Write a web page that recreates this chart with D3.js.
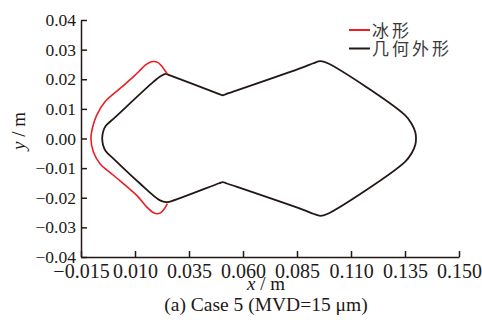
<!DOCTYPE html>
<html>
<head>
<meta charset="utf-8">
<script src="https://cdn.jsdelivr.net/npm/d3@7"></script>
<style>
  body { margin: 0; background: #fff; }
  svg { display: block; }
  .axis path, .axis line { stroke: #231815; stroke-width: 1.5; }
</style>
</head>
<body>
<div id="chart"></div>
<script>
// tick labels (the last x label reads 0.150 in the source figure)
var xTickValues = [-0.015, 0.010, 0.035, 0.060, 0.085, 0.110, 0.135, 0.160];
var xTickLabels = ["\u22120.015", "0.010", "0.035", "0.060", "0.085", "0.110", "0.135", "0.150"];
var yTickValues = [-0.04, -0.03, -0.02, -0.01, 0.00, 0.01, 0.02, 0.03, 0.04];

// geometry outline (closed), x / m
var geomX = [-0.0052, -0.0048, -0.0036, 0.0010, 0.0185, 0.0220, 0.0242, 0.0262, 0.0490, 0.0506, 0.0522,
  0.0880, 0.0925, 0.0958, 0.0990, 0.1350, 0.1382, 0.1398, 0.1401,
  0.1398, 0.1382, 0.1350, 0.0990, 0.0958, 0.0925, 0.0880,
  0.0522, 0.0506, 0.0490, 0.0262, 0.0245, 0.0216, 0.0123, 0.0000, -0.0036, -0.0048, -0.0052];
// y / m
var geomY = [0.0000, 0.0022, 0.0042, 0.0073, 0.0191, 0.0211, 0.0218, 0.0213, 0.0150, 0.0146, 0.0150,
  0.0241, 0.0254, 0.0261, 0.0255, 0.0079, 0.0048, 0.0020, 0.0000,
  -0.0020, -0.0048, -0.0079, -0.0255, -0.0261, -0.0254, -0.0241,
  -0.0151, -0.0147, -0.0151, -0.0213, -0.0215, -0.0209, -0.0152, -0.0068, -0.0042, -0.0022, 0.0000];

// ice shape
var iceX = [0.0250, 0.0236, 0.0222, 0.0205, 0.0185, 0.0165, 0.0146, 0.0120, 0.0092, 0.0031, -0.0039,
  -0.0077, -0.0096, -0.0104, -0.0093, -0.0062, 0.0000, 0.0108, 0.0154, 0.0180, 0.0200, 0.0220, 0.0236, 0.0250];
var iceY = [0.0218, 0.0232, 0.0246, 0.0257, 0.0260, 0.0256, 0.0247, 0.0228, 0.0208, 0.0169, 0.0124,
  0.0079, 0.0039, 0.0000, -0.0045, -0.0085, -0.0124, -0.0192, -0.0231, -0.0248, -0.0254, -0.0250, -0.0237, -0.0220];

var legendNames = ["冰形", "几何外形"];
var colors = ["#ed1c24", "#231815"];

var serif = "'Liberation Serif', 'Times New Roman', serif";
var width = 482, height = 325;
var svg = d3.select("#chart").append("svg").attr("width", width).attr("height", height);

var x = d3.scaleLinear().domain([-0.015, 0.160]).range([81, 459]);
var y = d3.scaleLinear().domain([-0.04, 0.04]).range([257, 20]);

// x axis, ticks inward
var gx = svg.append("g").attr("class", "axis").attr("transform", "translate(0," + y(-0.04) + ")")
  .call(d3.axisBottom(x).tickValues(xTickValues).tickSizeInner(-6).tickSizeOuter(0).tickPadding(7)
    .tickFormat(function (d, i) { return xTickLabels[i]; }));
gx.selectAll(".tick text").attr("font-family", serif).attr("font-size", 20).attr("fill", "#231815");

var gy = svg.append("g").attr("class", "axis").attr("transform", "translate(" + x(-0.015) + ",0)")
  .call(d3.axisLeft(y).tickValues(yTickValues).tickSizeInner(-6).tickSizeOuter(0).tickPadding(5)
    .tickFormat(d3.format(".2f")));
gy.selectAll(".tick text").attr("font-family", serif).attr("font-size", 17.5).attr("fill", "#231815");

var line = d3.line()
  .x(function (d) { return x(d[0]); })
  .y(function (d) { return y(d[1]); })
  .curve(d3.curveCatmullRom.alpha(0.5));

var geom = geomX.map(function (v, i) { return [v, geomY[i]]; });
var ice = iceX.map(function (v, i) { return [v, iceY[i]]; });

svg.append("path").datum(geom).attr("d", line)
  .attr("fill", "none").attr("stroke", colors[1]).attr("stroke-width", 1.8);
svg.append("path").datum(ice).attr("d", line)
  .attr("fill", "none").attr("stroke", colors[0]).attr("stroke-width", 1.6);

// legend
var lg = svg.append("g").attr("transform", "translate(349,30)");
legendNames.forEach(function (name, i) {
  lg.append("line").attr("x1", 0).attr("x2", 21).attr("y1", i * 18.5).attr("y2", i * 18.5)
    .attr("stroke", colors[i]).attr("stroke-width", 2);
  lg.append("text").attr("x", 23).attr("y", i * 18.5 + 6.5)
    .style("font-family", "'Noto Sans CJK SC', sans-serif").style("font-size", "17px")
    .style("letter-spacing", "3px").style("fill", "#3a3a3a")
    .text(name);
});

// axis titles
var xt = svg.append("text").attr("x", 266).attr("y", 290).attr("text-anchor", "middle")
  .style("font-family", serif).style("font-size", "19px").style("fill", "#231815");
xt.append("tspan").style("font-style", "italic").text("x");
xt.append("tspan").text(" / m");

var yt = svg.append("text").attr("transform", "translate(25,131) rotate(-90)").attr("text-anchor", "middle")
  .style("font-family", serif).style("font-size", "19px").style("fill", "#231815");
yt.append("tspan").style("font-style", "italic").text("y");
yt.append("tspan").text(" / m");

svg.append("text").attr("x", 266).attr("y", 311).attr("text-anchor", "middle")
  .style("font-family", serif).style("font-size", "19.5px").style("fill", "#231815")
  .text("(a) Case 5 (MVD=15 \u03bcm)");
</script>
</body>
</html>
